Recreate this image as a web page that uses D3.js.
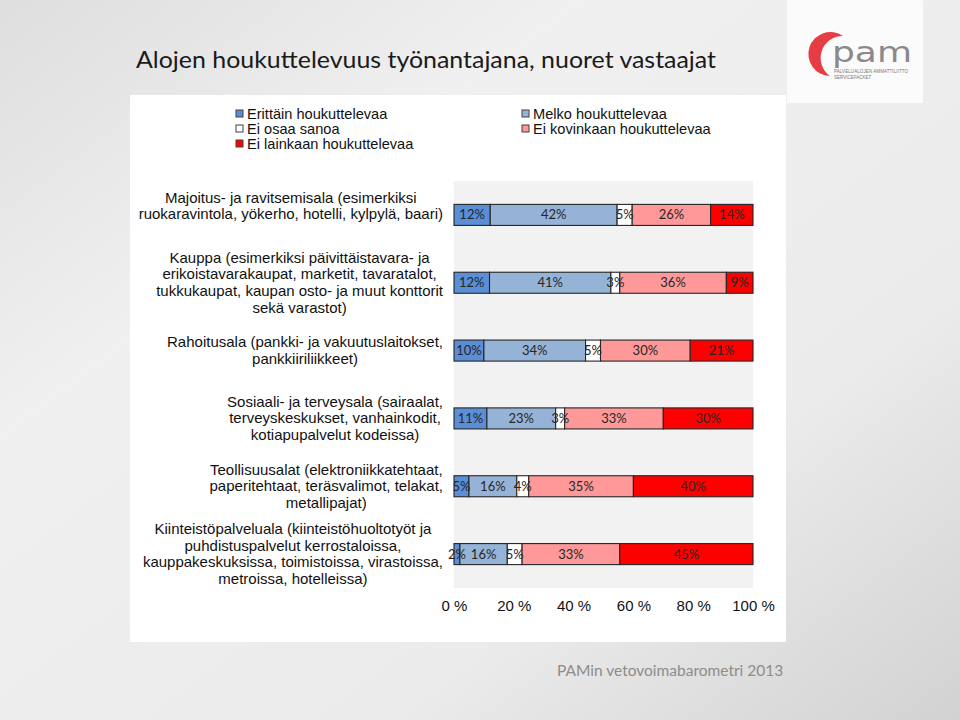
<!DOCTYPE html>
<html><head><meta charset="utf-8">
<script src="https://cdn.jsdelivr.net/npm/d3@7"></script>
<style>html,body{margin:0;padding:0;background:#e6e6e6;}svg{display:block;}</style>
</head><body>
<script>
const categories = [
  ["Majoitus- ja ravitsemisala (esimerkiksi", "ruokaravintola, yökerho, hotelli, kylpylä, baari)"],
  ["Kauppa (esimerkiksi päivittäistavara- ja", "erikoistavarakaupat, marketit, tavaratalot,", "tukkukaupat, kaupan osto- ja muut konttorit", "sekä varastot)"],
  ["Rahoitusala (pankki- ja vakuutuslaitokset,", "pankkiiriliikkeet)"],
  ["Sosiaali- ja terveysala (sairaalat,", "terveyskeskukset, vanhainkodit,", "kotiapupalvelut kodeissa)"],
  ["Teollisuusalat (elektroniikkatehtaat,", "paperitehtaat, teräsvalimot, telakat,", "metallipajat)"],
  ["Kiinteistöpalveluala (kiinteistöhuoltotyöt ja", "puhdistuspalvelut kerrostaloissa,", "kauppakeskuksissa, toimistoissa, virastoissa,", "metroissa, hotelleissa)"]
];
const seriesNames = ["Erittäin houkuttelevaa", "Melko houkuttelevaa", "Ei osaa sanoa", "Ei kovinkaan houkuttelevaa", "Ei lainkaan houkuttelevaa"];
const erittain = [12, 12, 10, 11, 5, 2];
const melko = [42, 41, 34, 23, 16, 16];
const eiOsaa = [5, 3, 5, 3, 4, 5];
const eiKovinkaan = [26, 36, 30, 33, 35, 33];
const eiLainkaan = [14, 9, 21, 30, 40, 45];
const tickValues = [0, 20, 40, 60, 80, 100];
const colors = ["#5a8ed6", "#95b3d7", "#ffffff", "#ff9999", "#ff0000"];

const series = [erittain, melko, eiOsaa, eiKovinkaan, eiLainkaan];
const rows = categories.map((c, i) => {
  const vals = series.map(s => s[i]);
  const total = d3.sum(vals);
  let acc = 0;
  return vals.map((v, k) => { const seg = {k, v, x0: acc / total * 100, x1: (acc + v) / total * 100}; acc += v; return seg; });
});

const W = 960, H = 720;
const svg = d3.select("body").append("svg").attr("width", W).attr("height", H);
const defs = svg.append("defs");
const lg = defs.append("linearGradient").attr("id", "bg").attr("x1", 0).attr("y1", 0).attr("x2", 1).attr("y2", 1);
lg.append("stop").attr("offset", "0").attr("stop-color", "#dedede");
lg.append("stop").attr("offset", "0.3").attr("stop-color", "#f0f0f0");
lg.append("stop").attr("offset", "0.7").attr("stop-color", "#ebebeb");
lg.append("stop").attr("offset", "1").attr("stop-color", "#d2d2d2");
svg.append("rect").attr("width", W).attr("height", H).attr("fill", "url(#bg)");

// Title
svg.append("text").attr("x", 136).attr("y", 68)
  .attr("font-family", "Lato, 'Open Sans', sans-serif").attr("font-size", 24).attr("fill", "#1a1a1a")
  .attr("textLength", 580).attr("lengthAdjust", "spacingAndGlyphs")
  .text("Alojen houkuttelevuus työnantajana, nuoret vastaajat");

// Logo
const logo = svg.append("g");
logo.append("rect").attr("x", 787).attr("y", 0).attr("width", 136).attr("height", 103).attr("fill", "#fbfbfb");
logo.append("path").attr("d", "M843,36 A22,22 0 1,0 830,76 A22,22 0 0,1 843,36 Z").attr("fill", "#e63c44");
logo.append("text").attr("x", 832).attr("y", 62).attr("font-family", "'DejaVu Sans', sans-serif").attr("font-size", 28).attr("fill", "#8a8a8a")
  .attr("textLength", 80).attr("lengthAdjust", "spacingAndGlyphs").text("pam");
logo.append("text").attr("x", 834).attr("y", 73).attr("font-family", "'Liberation Sans', sans-serif").attr("font-size", 4.5).attr("fill", "#777").attr("textLength", 74).text("PALVELUALOJEN AMMATTILIITTO");
logo.append("text").attr("x", 834).attr("y", 79).attr("font-family", "'Liberation Sans', sans-serif").attr("font-size", 4.5).attr("fill", "#777").text("SERVICEFACKET");

// Chart panel
svg.append("rect").attr("x", 130).attr("y", 95).attr("width", 656).attr("height", 547).attr("fill", "#ffffff");

const x = d3.scaleLinear().domain([0, 100]).range([454, 753]);
const y = d3.scaleBand().domain(d3.range(categories.length)).range([181, 588]).paddingInner(0.69).paddingOuter(0.345);

svg.append("rect").attr("x", x(0)).attr("y", 181).attr("width", x(100) - x(0)).attr("height", 407).attr("fill", "#f2f2f2");

// Legend
const legendPos = [[236, 114], [522, 114], [236, 129], [522, 129], [236, 144]];
const leg = svg.append("g");
seriesNames.forEach((name, k) => {
  const [lx, ly] = legendPos[k];
  leg.append("rect").attr("x", lx).attr("y", ly - 4).attr("width", 7).attr("height", 7).attr("fill", colors[k]).attr("stroke", "#404040").attr("stroke-width", 1);
  leg.append("text").attr("x", lx + 11).attr("y", ly + 5).attr("font-family", "'Liberation Sans', Arial, sans-serif").attr("font-size", 14.6).attr("fill", "#111").text(name);
});

// Bars
const g = svg.append("g");
rows.forEach((segs, i) => {
  const row = g.append("g");
  row.selectAll("rect").data(segs).join("rect")
    .attr("x", d => x(d.x0)).attr("y", y(i)).attr("width", d => x(d.x1) - x(d.x0)).attr("height", y.bandwidth())
    .attr("fill", d => colors[d.k]).attr("stroke", "#262626").attr("stroke-width", 1.1);
  row.selectAll("text").data(segs).join("text")
    .attr("x", d => (x(d.x0) + x(d.x1)) / 2).attr("y", y(i) + y.bandwidth() / 2 + 4.5)
    .attr("text-anchor", "middle").attr("font-family", "Lato, 'Open Sans', sans-serif").attr("font-size", 13).attr("fill", "#262626")
    .text(d => d.v + "%");
});

// Category labels
const labelRight = 443, lineH = 16.7;
categories.forEach((lines, i) => {
  const shift = i === 0 ? -9 : 0;
  const cy = y(i) + y.bandwidth() / 2 + shift;
  const grp = svg.append("g");
  const texts = lines.map((t, j) => grp.append("text")
    .attr("y", cy + (j - (lines.length - 1) / 2) * lineH + 5)
    .attr("text-anchor", "middle").attr("font-family", "'Liberation Sans', Arial, sans-serif").attr("font-size", 15).attr("fill", "#111").text(t));
  const maxW = d3.max(texts, t => t.node().getComputedTextLength());
  texts.forEach(t => t.attr("x", labelRight - maxW / 2));
});

// Axis
const axis = d3.axisBottom(x).tickValues(tickValues).tickSize(0).tickFormat(d => d + " %");
const ax = svg.append("g").attr("transform", "translate(0,597)").call(axis);
ax.select(".domain").remove();
ax.selectAll("text").attr("font-family", "'Liberation Sans', Arial, sans-serif").attr("font-size", 15).attr("fill", "#111");

// Footer
svg.append("text").attr("x", 557).attr("y", 676).attr("font-family", "Lato, 'Open Sans', sans-serif").attr("font-size", 15.5).attr("fill", "#8c8c8c").text("PAMin vetovoimabarometri 2013");
</script>
</body></html>
